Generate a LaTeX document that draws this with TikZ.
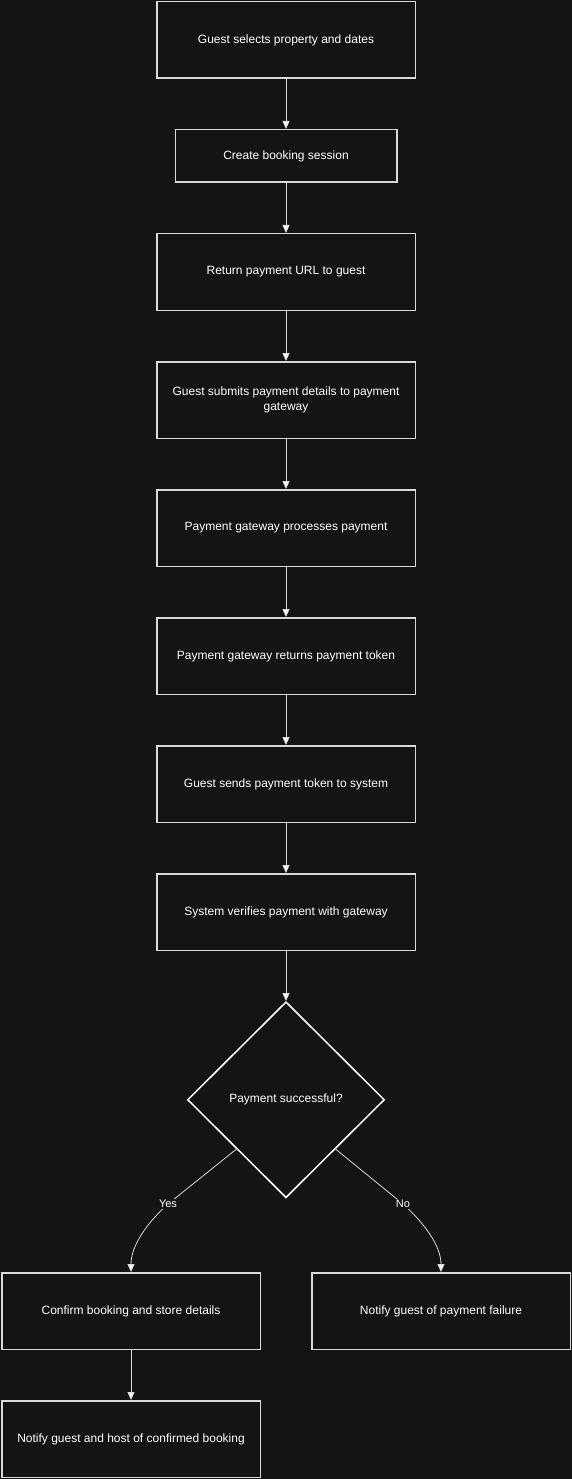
\documentclass[tikz,border=0pt]{standalone}
\usepackage{fontspec}
\setmainfont{Liberation Sans}
\usetikzlibrary{positioning,shapes.geometric,arrows.meta}
\definecolor{bgdark}{HTML}{141414}
\definecolor{linegray}{HTML}{D9D9D9}
\tikzset{
  stepbox/.style={
    draw=linegray, line width=1.5pt, fill=bgdark,
    minimum width=258.5pt, minimum height=76.5pt,
    align=center, text=white,
    font=\fontsize{12}{15}\selectfont, inner sep=2pt
  },
  smallbox/.style={stepbox, minimum width=221.5pt, minimum height=52.5pt},
  decision/.style={
    diamond, draw=white, line width=1.5pt, fill=bgdark,
    minimum width=197pt, minimum height=196pt, inner sep=0pt,
    text=white, font=\fontsize{12}{15}\selectfont
  },
  flow/.style={draw=linegray, line width=0.8pt, -{Triangle[width=7pt,length=8pt,fill=white]}},
  edgelabel/.style={fill=bgdark, text=white, inner sep=1pt,
    font=\fontsize{11}{13}\selectfont}
}
\begin{document}
\begin{tikzpicture}[x=1pt,y=-1pt,node distance=50pt]
\fill[bgdark] (0,0) rectangle (572,1479);
\useasboundingbox (0,0) rectangle (572,1479);

% main line
\node[stepbox] (select) at (286,40) {Guest selects property and dates};
\node[smallbox, below=of select] (session) {Create booking session};
\node[stepbox, below=of session] (url) {Return payment URL to guest};
\node[stepbox, below=of url] (submit) {Guest submits payment details to payment\\gateway};
\node[stepbox, below=of submit] (process) {Payment gateway processes payment};
\node[stepbox, below=of process] (token) {Payment gateway returns payment token};
\node[stepbox, below=of token] (send) {Guest sends payment token to system};
\node[stepbox, below=of send] (verify) {System verifies payment with gateway};
\node[decision, below=of verify] (ok) {Payment successful?};

% branches
\node[stepbox] (confirm) at (131,1311) {Confirm booking and store details};
\node[stepbox] (fail) at (441,1311) {Notify guest of payment failure};
\node[stepbox, below=of confirm] (notify) {Notify guest and host of confirmed booking};

\coordinate (yesmid) at (168,1204);
\coordinate (nomid) at (403,1204);

\draw[flow] (select) -- (session);
\draw[flow] (session) -- (url);
\draw[flow] (url) -- (submit);
\draw[flow] (submit) -- (process);
\draw[flow] (process) -- (token);
\draw[flow] (token) -- (send);
\draw[flow] (send) -- (verify);
\draw[flow] (verify) -- (ok);

\draw[flow] (ok.south west) -- (yesmid)
  .. controls (148,1222) and (131,1245) .. (confirm.north);
\draw[flow] (ok.south east) -- (nomid)
  .. controls (423,1222) and (441,1245) .. (fail.north);
\node[edgelabel] (yes) at (yesmid) {Yes};
\node[edgelabel] (no) at (nomid) {No};

\draw[flow] (confirm) -- (notify);
\end{tikzpicture}
\end{document}
